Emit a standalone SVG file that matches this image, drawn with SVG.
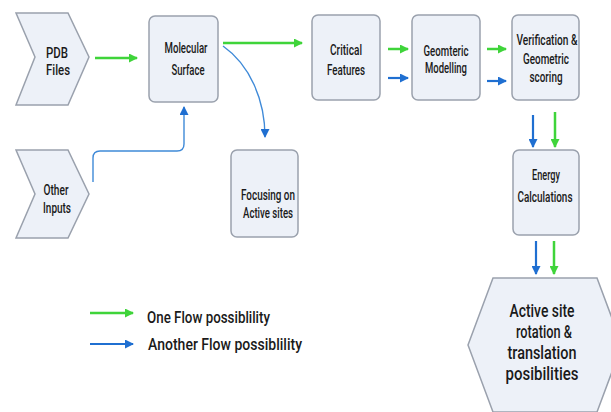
<svg xmlns="http://www.w3.org/2000/svg" width="611" height="412" viewBox="0 0 611 412">
<style>
.node{fill:#edf1f8;stroke:#9aa1ad;stroke-width:1.5}
.t{font-family:Roboto,"Liberation Sans",sans-serif;font-size:14px;font-weight:500;fill:#1a1a1a;text-anchor:middle}
.tb{font-size:19px}
.tl{font-family:Roboto,"Liberation Sans",sans-serif;font-size:17px;font-weight:500;fill:#1a1a1a}
.g{fill:none;stroke:#3fd43a;stroke-width:2.5;marker-end:url(#ag)}
.b{fill:none;stroke:#1f6fd1;stroke-width:2.2;marker-end:url(#ab)}
.bt{fill:none;stroke:#3f8ad8;stroke-width:1.4;marker-end:url(#ab)}
</style>
<defs>
<marker id="ag" markerUnits="userSpaceOnUse" markerWidth="9" markerHeight="9" refX="8" refY="4.5" orient="auto"><path d="M0,0 L9,4.5 L0,9 Z" fill="#3fd43a"/></marker>
<marker id="ab" markerUnits="userSpaceOnUse" markerWidth="9" markerHeight="9" refX="8" refY="4.5" orient="auto"><path d="M0,0 L9,4.5 L0,9 Z" fill="#1f6fd1"/></marker>
</defs>
<rect width="611" height="412" fill="#fff"/>
<g id="pdb"><path class="node" d="M16,13 H68 L89,57 L68,105 H16 L35,57 Z"/><text class="t" x="57" y="58" textLength="22" lengthAdjust="spacingAndGlyphs">PDB</text><text class="t" x="58" y="75" textLength="24" lengthAdjust="spacingAndGlyphs">Files</text></g>
<g id="other"><path class="node" d="M16,150 H68 L89,194 L68,238 H16 L35,194 Z"/><text class="t" x="56" y="195" textLength="25" lengthAdjust="spacingAndGlyphs">Other</text><text class="t" x="57" y="213" textLength="28" lengthAdjust="spacingAndGlyphs">Inputs</text></g>
<g id="molecular"><rect class="node" x="149" y="16" width="69" height="86" rx="6"/><text class="t" x="186" y="53" textLength="43" lengthAdjust="spacingAndGlyphs">Molecular</text><text class="t" x="188" y="75" textLength="33" lengthAdjust="spacingAndGlyphs">Surface</text></g>
<g id="focusing"><rect class="node" x="231" y="150" width="67" height="87" rx="6"/><text class="t" x="268" y="200" textLength="54" lengthAdjust="spacingAndGlyphs">Focusing on</text><text class="t" x="268" y="218" textLength="50" lengthAdjust="spacingAndGlyphs">Active sites</text></g>
<g id="critical"><rect class="node" x="312" y="15" width="68" height="85" rx="6"/><text class="t" x="346" y="55" textLength="32" lengthAdjust="spacingAndGlyphs">Critical</text><text class="t" x="346" y="75" textLength="38" lengthAdjust="spacingAndGlyphs">Features</text></g>
<g id="geometric"><rect class="node" x="412" y="15" width="68" height="85" rx="6"/><text class="t" x="446" y="56" textLength="45" lengthAdjust="spacingAndGlyphs">Geomteric</text><text class="t" x="446" y="73" textLength="42" lengthAdjust="spacingAndGlyphs">Modelling</text></g>
<g id="verification"><rect class="node" x="512" y="15" width="67" height="85" rx="6"/><text class="t" x="547" y="45" textLength="61" lengthAdjust="spacingAndGlyphs">Verification &amp;</text><text class="t" x="546" y="64" textLength="46" lengthAdjust="spacingAndGlyphs">Geometric</text><text class="t" x="546" y="82" textLength="33" lengthAdjust="spacingAndGlyphs">scoring</text></g>
<g id="energy"><rect class="node" x="513" y="150" width="66" height="85" rx="6"/><text class="t" x="546" y="180" textLength="28" lengthAdjust="spacingAndGlyphs">Energy</text><text class="t" x="545" y="202" textLength="55" lengthAdjust="spacingAndGlyphs">Calculations</text></g>
<g id="active"><path class="node" d="M493,278 H597 L622,345 L597,412 H493 L468,345 Z"/><text class="t tb" x="542" y="317" textLength="65" lengthAdjust="spacingAndGlyphs">Active site</text><text class="t tb" x="544" y="338" textLength="56" lengthAdjust="spacingAndGlyphs">rotation &amp;</text><text class="t tb" x="542" y="359" textLength="69" lengthAdjust="spacingAndGlyphs">translation</text><text class="t tb" x="542" y="380" textLength="73" lengthAdjust="spacingAndGlyphs">posibilities</text></g>
<g id="connectors">
<path class="g" d="M95,58 H137"/>
<path class="g" d="M223,43 H302"/>
<path class="bt" d="M223,46 C250,65 265,100 265,137"/>
<path class="bt" d="M93,182 V158 Q93,151 100,151 H177 Q184,151 184,144 V107"/>
<path class="g" d="M388,49 H408"/>
<path class="b" d="M388,78 H408"/>
<path class="g" d="M487,49 H506"/>
<path class="b" d="M487,81 H506"/>
<path class="b" d="M533,115 V147"/>
<path class="g" d="M555,112 V147"/>
<path class="b" d="M536,241 V274"/>
<path class="g" d="M554,241 V274"/>
</g>
<g id="legend">
<path class="g" d="M90,313 H133"/>
<path class="b" d="M90,344 H133"/>
<text class="tl" x="147" y="323" textLength="123" lengthAdjust="spacingAndGlyphs">One Flow possiblility</text>
<text class="tl" x="148" y="350" textLength="154" lengthAdjust="spacingAndGlyphs">Another Flow possiblility</text>
</g>
</svg>
